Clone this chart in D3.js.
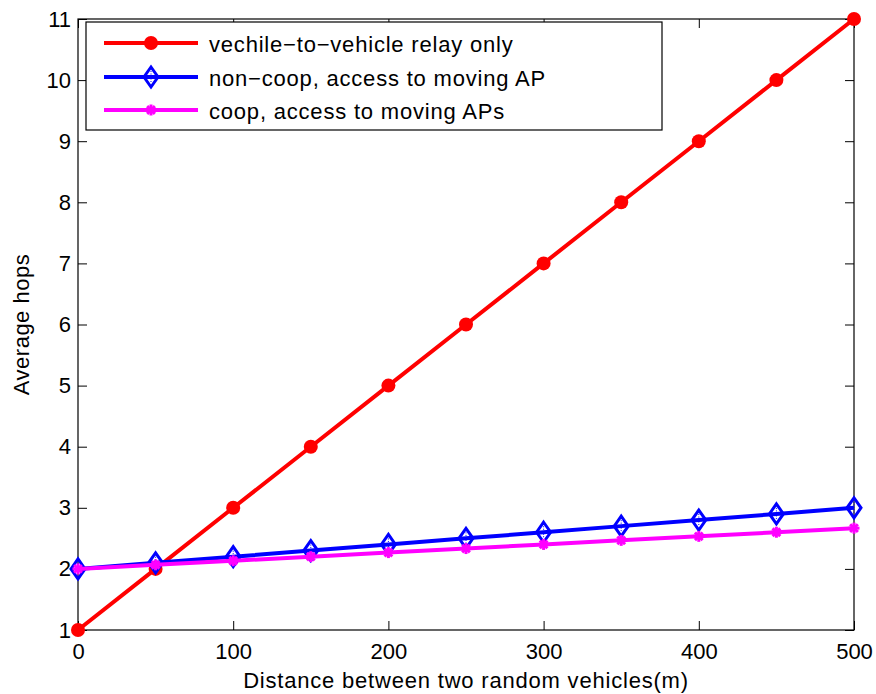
<!DOCTYPE html>
<html>
<head>
<meta charset="utf-8">
<script src="https://cdn.jsdelivr.net/npm/d3@7"></script>
<style>
  body { margin: 0; background: #fff; }
  text { font-family: "Liberation Sans", Arial, sans-serif; }
</style>
</head>
<body>
<div id="chart"></div>
<script>
const distances = [0, 50, 100, 150, 200, 250, 300, 350, 400, 450, 500];
const relayOnly = [1, 2, 3, 4, 5, 6, 7, 8, 9, 10, 11];
const nonCoop = [2, 2.1, 2.2, 2.3, 2.4, 2.5, 2.6, 2.7, 2.8, 2.9, 3];
const coop = [2, 2.067, 2.133, 2.2, 2.267, 2.333, 2.4, 2.467, 2.533, 2.6, 2.667];
const xTicks = [0, 100, 200, 300, 400, 500];
const yTicks = [1, 2, 3, 4, 5, 6, 7, 8, 9, 10, 11];
const seriesNames = ["vechile\u2212to\u2212vehicle relay only",
                     "non\u2212coop, access to moving AP",
                     "coop, access to moving APs"];

const width = 876, height = 694;
const margin = {left: 78, right: 22, top: 19, bottom: 64};
const fontSize = 22;

const svg = d3.select("#chart")
              .append("svg")
              .attr("width", width)
              .attr("height", height);

const x = d3.scaleLinear()
            .domain([0, 500])
            .range([margin.left, width - margin.right]);
const y = d3.scaleLinear()
            .domain([1, 11])
            .range([height - margin.bottom, margin.top]);

const tickLen = 9;

// box
svg.append("rect")
   .attr("x", x(0)).attr("y", y(11))
   .attr("width", x(500) - x(0)).attr("height", y(1) - y(11))
   .attr("fill", "none").attr("stroke", "#000").attr("stroke-width", 1.2);

// axes, ticks pointing inward
const axisStyle = g => {
    g.select(".domain").remove();
    g.attr("font-size", fontSize).attr("font-family", "'Liberation Sans', Arial, sans-serif");
    g.selectAll(".tick line").attr("stroke", "#000").attr("stroke-width", 1);
    g.selectAll(".tick text").attr("fill", "#000");
};

svg.append("g")
   .attr("transform", `translate(0,${y(1)})`)
   .call(d3.axisBottom(x).tickValues(xTicks).tickSize(-tickLen).tickPadding(8))
   .call(axisStyle)
   .selectAll(".tick text").attr("y", 29).attr("dy", null);

svg.append("g")
   .attr("transform", `translate(0,${y(11)})`)
   .call(d3.axisTop(x).tickValues(xTicks).tickSize(-tickLen).tickFormat(""))
   .call(axisStyle);

svg.append("g")
   .attr("transform", `translate(${x(0)},0)`)
   .call(d3.axisLeft(y).tickValues(yTicks).tickSize(-tickLen).tickPadding(7))
   .call(axisStyle);

svg.append("g")
   .attr("transform", `translate(${x(500)},0)`)
   .call(d3.axisRight(y).tickValues(yTicks).tickSize(-tickLen).tickFormat(""))
   .call(axisStyle);

// axis labels
svg.append("text")
   .attr("x", (x(0) + x(500)) / 2).attr("y", 688)
   .attr("text-anchor", "middle").attr("font-size", fontSize)
   .attr("letter-spacing", 0.8)
   .text("Distance between two random vehicles(m)");

svg.append("text")
   .attr("transform", `translate(29,${(y(1) + y(11)) / 2}) rotate(-90)`)
   .attr("text-anchor", "middle").attr("font-size", fontSize)
   .attr("letter-spacing", 0.5)
   .text("Average hops");

// markers
const drawCircle = (g, cx, cy, color) =>
    g.append("circle").attr("cx", cx).attr("cy", cy).attr("r", 7).attr("fill", color);

const drawDiamond = (g, cx, cy, color) => {
    g.append("path")
     .attr("d", `M${cx},${cy - 10}L${cx + 7},${cy}L${cx},${cy + 10}L${cx - 7},${cy}Z`)
     .attr("fill", "none").attr("stroke", color).attr("stroke-width", 3);
    g.append("line").attr("x1", cx).attr("x2", cx).attr("y1", cy - 6).attr("y2", cy + 6)
     .attr("stroke", color).attr("stroke-width", 1).attr("stroke-dasharray", "1,1.5");
};

const drawStar = (g, cx, cy, color) => {
    const r = 5.5;
    [[-r, 0, r, 0], [0, -r, 0, r], [-r * 0.7, -r * 0.7, r * 0.7, r * 0.7], [-r * 0.7, r * 0.7, r * 0.7, -r * 0.7]]
        .forEach(d => g.append("line")
            .attr("x1", cx + d[0]).attr("y1", cy + d[1])
            .attr("x2", cx + d[2]).attr("y2", cy + d[3])
            .attr("stroke", color).attr("stroke-width", 3));
};

const series = [
    {values: relayOnly, color: "#ff0000", marker: drawCircle},
    {values: nonCoop, color: "#0000ff", marker: drawDiamond},
    {values: coop, color: "#ff00ff", marker: drawStar}
];

const line = d3.line()
               .x(d => x(d[0]))
               .y(d => y(d[1]));

series.forEach(s => {
    const g = svg.append("g");
    const pts = distances.map((d, i) => [d, s.values[i]]);
    g.append("path")
     .attr("d", line(pts))
     .attr("fill", "none")
     .attr("stroke", s.color)
     .attr("stroke-width", 4);
    pts.forEach(p => s.marker(g, x(p[0]), y(p[1]), s.color));
});

// legend
const legend = svg.append("g");
legend.append("rect")
      .attr("x", 86).attr("y", 22)
      .attr("width", 576).attr("height", 108)
      .attr("fill", "#fff").attr("stroke", "#000").attr("stroke-width", 1.2);

const rowY = [43, 77, 110];
series.forEach((s, i) => {
    legend.append("line")
          .attr("x1", 104).attr("x2", 198)
          .attr("y1", rowY[i]).attr("y2", rowY[i])
          .attr("stroke", s.color).attr("stroke-width", 4);
    s.marker(legend, 151, rowY[i], s.color);
    legend.append("text")
          .attr("x", 209).attr("y", rowY[i] + 9)
          .attr("font-size", fontSize)
          .attr("letter-spacing", 0.8)
          .text(seriesNames[i]);
});
</script>
</body>
</html>
